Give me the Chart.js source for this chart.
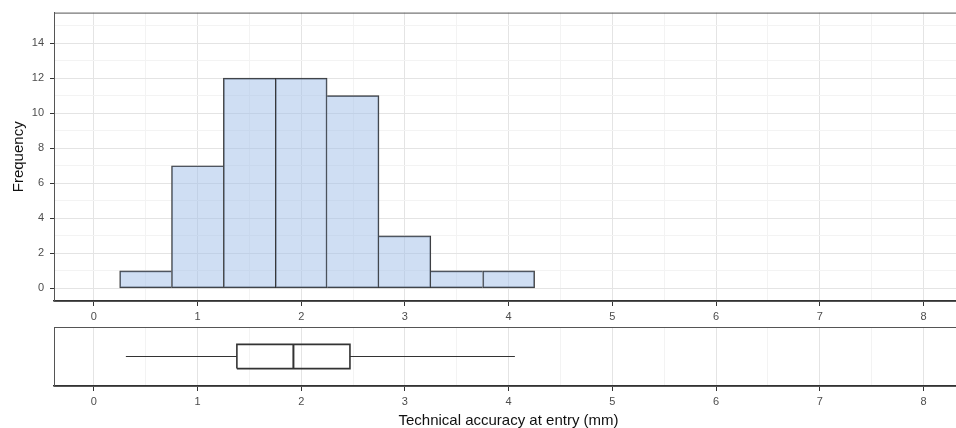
<!DOCTYPE html>
<html>
<head>
<meta charset="utf-8">
<script src="https://cdn.jsdelivr.net/npm/chart.js@4"></script>
<style>
  html, body { margin: 0; padding: 0; background: #fff; overflow: hidden; }
  #wrap { position: relative; width: 956px; height: 428px; overflow: hidden; background: #fff; }
  canvas { position: absolute; left: 0; }
  #hist { top: 0; }
  #box { top: 320px; }
</style>
</head>
<body>
<div id="wrap">
  <canvas id="hist" width="972" height="320"></canvas>
  <canvas id="box" width="972" height="108"></canvas>
</div>
<script>
// Histogram bins (centre of each 0.5 mm bin) and counts
const binCenters = [0.5, 1, 1.5, 2, 2.5, 3, 3.5, 4];
const binCounts = [1, 7, 12, 12, 11, 3, 1, 1];

// Boxplot summary: min, Q1, median, Q3, max
const boxStats = [0.31, 1.38, 1.925, 2.47, 4.06];

// Axis ranges
const xRange = [-0.383, 8.38];
const yRange = [-0.72, 15.74];

const xTitle = 'Technical accuracy at entry (mm)';
const yTitle = 'Frequency';

// Styles
const FONT = '"Liberation Sans", Arial, Helvetica, sans-serif';
const TICK_TEXT = '#4d4d4d';
const MAJOR_GRID = '#e4e4e4';
const MINOR_GRID = '#f3f3f3';
const LINE = '#333333';
const BOX_HALF = 0.41;

function isMajor(v, step) {
  return Math.abs(v / step - Math.round(v / step)) < 1e-6;
}

// ggplot-like panel border
const panelBorder = {
  id: 'panelBorder',
  afterDraw(chart) {
    const a = chart.chartArea;
    const ctx = chart.ctx;
    ctx.save();
    ctx.strokeStyle = '#555555';
    ctx.lineWidth = 1;
    ctx.strokeRect(a.left + 0.5, a.top + 0.5, a.right - a.left, a.bottom - a.top);
    ctx.restore();
  }
};

function xAxis(height, withTitle) {
  return {
    type: 'linear',
    min: xRange[0],
    max: xRange[1],
    offset: false,
    ticks: {
      stepSize: 0.5,
      autoSkip: false,
      maxRotation: 0,
      includeBounds: false,
      padding: 4,
      color: TICK_TEXT,
      font: { family: FONT, size: 11 },
      callback: v => isMajor(v, 1) ? String(v) : ''
    },
    grid: {
      offset: false,
      lineWidth: 1,
      tickLength: 5,
      color: c => (c.tick && isMajor(c.tick.value, 1)) ? MAJOR_GRID : MINOR_GRID,
      tickColor: c => (c.tick && isMajor(c.tick.value, 1)) ? LINE : 'rgba(0,0,0,0)'
    },
    border: { color: LINE, width: 1.5 },
    title: {
      display: withTitle,
      text: xTitle,
      color: '#111111',
      font: { family: FONT, size: 15, lineHeight: 0.8 },
      padding: { top: 0, bottom: 1 }
    },
    afterFit: s => { s.height = height; }
  };
}

// shared edges between neighbouring bars get a single 1px line
function barBorder(ctx) {
  const i = ctx.dataIndex;
  const cur = binCounts[i];
  const prev = binCounts[i - 1];
  const next = binCounts[i + 1];
  return {
    top: 1,
    bottom: 1,
    left: (prev === undefined || prev <= cur) ? 1 : 0,
    right: (next === undefined || next < cur) ? 1 : 0
  };
}

// Histogram
new Chart(document.getElementById('hist'), {
  type: 'bar',
  data: {
    datasets: [{
      data: binCenters.map((c, i) => ({ x: c, y: binCounts[i] })),
      backgroundColor: 'rgba(160, 190, 232, 0.5)',
      borderColor: LINE,
      borderWidth: barBorder,
      borderSkipped: false,
      barPercentage: 1,
      categoryPercentage: 1
    }]
  },
  options: {
    responsive: false,
    animation: false,
    layout: { padding: { top: 11, right: 9, left: 0, bottom: 0 } },
    plugins: { legend: { display: false }, tooltip: { enabled: false } },
    scales: {
      x: xAxis(19, false),
      y: {
        type: 'linear',
        min: yRange[0],
        max: yRange[1],
        ticks: {
          stepSize: 1,
          includeBounds: false,
          padding: 6,
          color: TICK_TEXT,
          font: { family: FONT, size: 11 },
          callback: v => isMajor(v, 2) ? String(v) : ''
        },
        grid: {
          lineWidth: 1,
          tickLength: 4,
          color: c => (c.tick && isMajor(c.tick.value, 2)) ? MAJOR_GRID : MINOR_GRID,
          tickColor: c => (c.tick && isMajor(c.tick.value, 2)) ? LINE : 'rgba(0,0,0,0)'
        },
        border: { color: '#555555', width: 1 },
        title: {
          display: true,
          text: yTitle,
          color: '#111111',
          font: { family: FONT, size: 15, lineHeight: 1.2 },
          padding: { top: 10, bottom: 0 }
        },
        afterFit: s => { s.width = 54; }
      }
    }
  },
  plugins: [panelBorder]
});

// Boxplot
const [bMin, q1, med, q3, bMax] = boxStats;
const lineSet = (pts, width) => ({
  type: 'scatter',
  data: pts,
  showLine: true,
  borderColor: LINE,
  borderWidth: width,
  pointRadius: 0,
  tension: 0,
  fill: false
});

new Chart(document.getElementById('box'), {
  type: 'scatter',
  data: {
    datasets: [
      lineSet([{ x: bMin, y: 0 }, { x: q1, y: 0 }], 1),
      lineSet([{ x: q3, y: 0 }, { x: bMax, y: 0 }], 1),
      lineSet([
        { x: q1, y: -BOX_HALF }, { x: q3, y: -BOX_HALF },
        { x: q3, y: BOX_HALF }, { x: q1, y: BOX_HALF }, { x: q1, y: -BOX_HALF }
      ], 1.6),
      lineSet([{ x: med, y: -BOX_HALF }, { x: med, y: BOX_HALF }], 2)
    ]
  },
  options: {
    responsive: false,
    animation: false,
    layout: { padding: { top: 7, right: 9, left: 54, bottom: 0 } },
    plugins: { legend: { display: false }, tooltip: { enabled: false } },
    scales: {
      x: xAxis(42, true),
      y: { type: 'linear', min: -1, max: 1, display: false }
    }
  },
  plugins: [panelBorder]
});
</script>
</body>
</html>
